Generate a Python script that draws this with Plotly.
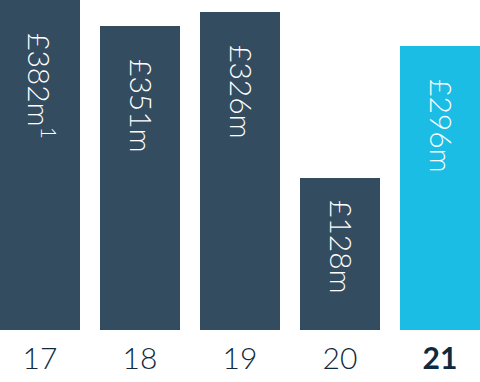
import plotly.graph_objects as go

years = ["17", "18", "19", "20", "21"]
tick_labels = ["17", "18", "19", "20", "<b>21</b>"]
bar_heights = [330, 304, 318, 152, 284]
value_labels = ["£382m<sup>1</sup>", "£351m", "£326m", "£128m", "£296m"]
bar_colors = ["#344c5f", "#344c5f", "#344c5f", "#344c5f", "#1bbde4"]

fig = go.Figure(go.Bar(
    x=years,
    y=bar_heights,
    marker=dict(color=bar_colors, line=dict(width=0)),
    width=0.8,
    hoverinfo="skip",
))

label_gap = [-31, -31, -31, -20, -31]  # gap from bar top to label (style)
for i, (h, lab) in enumerate(zip(bar_heights, value_labels)):
    fig.add_annotation(
        x=i, y=h, xref="x", yref="y",
        text=lab, showarrow=False, textangle=90,
        xanchor="center", yanchor="top", yshift=label_gap[i], xshift=2,
        font=dict(family="Lato", size=30, color="#ffffff", weight=300),
    )

fig.update_layout(
    width=480, height=382,
    margin=dict(l=0, r=0, t=0, b=52),
    paper_bgcolor="white", plot_bgcolor="white",
    showlegend=False,
    xaxis=dict(
        type="category",
        range=[-0.4, 4.4],
        tickvals=years, ticktext=tick_labels,
        showgrid=False, zeroline=False, showline=False,
        ticks="", ticklabelstandoff=8,
        tickfont=dict(family="Lato", size=30, color="#0f2a3f", weight=300),
    ),
    yaxis=dict(range=[0, 330], visible=False),
)

fig.write_html("out.html", config={"displayModeBar": False},
               post_script="document.body.style.margin='0';")
